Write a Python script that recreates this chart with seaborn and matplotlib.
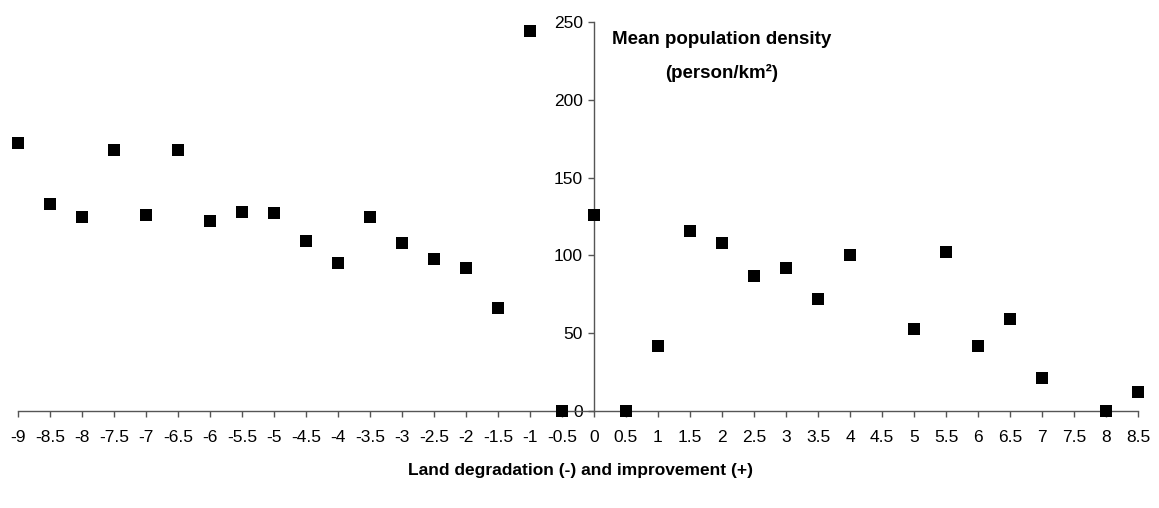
import matplotlib
matplotlib.use("Agg")
import matplotlib.pyplot as plt
import seaborn as sns
import pandas as pd
import numpy as np

# ---- data ----
change = [-9, -8.5, -8, -7.5, -7, -6.5, -6, -5.5, -5, -4.5, -4, -3.5, -3, -2.5, -2, -1.5, -1, -0.5,
          0, 0.5, 1, 1.5, 2, 2.5, 3, 3.5, 4, 5, 5.5, 6, 6.5, 7, 8, 8.5]
density = [172, 133, 125, 168, 126, 168, 122, 128, 127, 109, 95, 125, 108, 98, 92, 66, 244, 0,
           126, 0, 42, 116, 108, 87, 92, 72, 100, 53, 102, 42, 59, 21, 0, 12]
tick_values = [v / 2 for v in range(-18, 18)]
y_ticks = [0, 50, 100, 150, 200, 250]
x_title = "Land degradation (-) and improvement (+)"
y_title_1 = "Mean population density"
y_title_2 = "(person/km²)"

df = pd.DataFrame({"change": change, "density": density})

sns.set_style("white")
plt.rcParams["font.family"] = ["Liberation Sans", "DejaVu Sans"]
plt.rcParams["text.color"] = "black"
plt.rcParams["xtick.color"] = "black"
plt.rcParams["ytick.color"] = "black"

fig = plt.figure(figsize=(11.59, 5.08), dpi=100)
ax = fig.add_axes([18 / 1159, (508 - 411) / 508, 1120 / 1159, 389 / 508])

sns.scatterplot(data=df, x="change", y="density", marker="s", color="black",
                s=80, linewidth=0, clip_on=False, ax=ax, legend=False, zorder=5)

ax.set_xlim(-9, 8.5)
ax.set_ylim(0, 250)
ax.set_xticks(tick_values)
ax.set_xticklabels([f"{v:g}" for v in tick_values])
ax.set_yticks(y_ticks)
ax.set_yticklabels([str(v) for v in y_ticks])

axis_col = "#555555"
for side in ["top", "right"]:
    ax.spines[side].set_visible(False)
ax.spines["left"].set_position(("data", 0))
ax.spines["bottom"].set_position(("data", 0))
for side in ["left", "bottom"]:
    ax.spines[side].set_color(axis_col)
    ax.spines[side].set_linewidth(1.0)

ax.tick_params(axis="x", direction="out", length=4, width=1, color=axis_col, pad=10,
               labelcolor="black", labelsize=12.5, bottom=True)
ax.tick_params(axis="y", direction="out", length=4, width=1, color=axis_col, pad=4,
               labelcolor="black", labelsize=12.5, left=True)

ax.set_xlabel("")
ax.set_ylabel("")
fig.text(580 / 1159, 1 - 471 / 508, x_title, ha="center", va="center",
         fontsize=12.5, fontweight="bold", color="black")
fig.text(722 / 1159, 1 - 39 / 508, y_title_1, ha="center", va="center",
         fontsize=13.5, fontweight="bold", color="black")
fig.text(722 / 1159, 1 - 73 / 508, y_title_2, ha="center", va="center",
         fontsize=13.5, fontweight="bold", color="black")

fig.savefig("out.png", dpi=100, facecolor="white")
